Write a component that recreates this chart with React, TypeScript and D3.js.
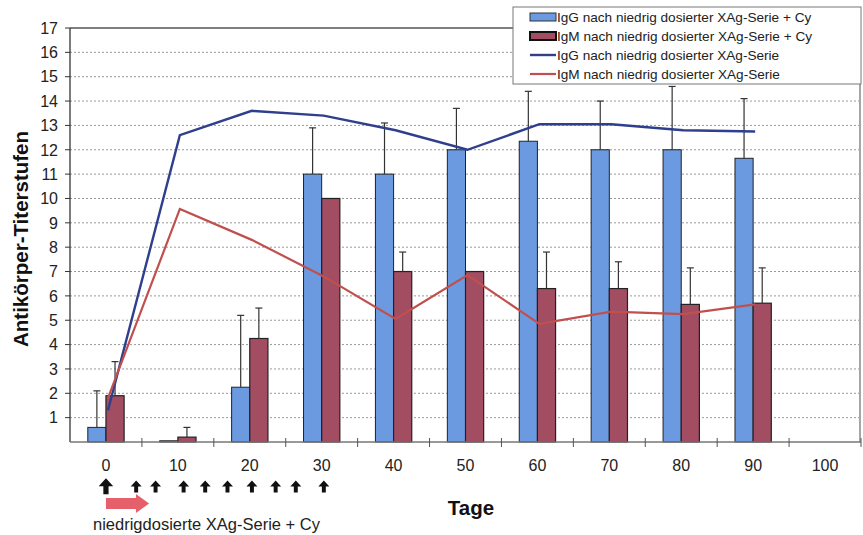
import * as d3 from "d3";

const days = ["0", "10", "20", "30", "40", "50", "60", "70", "80", "90", "100"];
// bars (mit Cy)
const igGCy = [0.6, 0.05, 2.25, 11.0, 11.0, 12.0, 12.35, 12.0, 12.0, 11.65, null];
const igGCyErr = [1.5, 0, 2.95, 1.9, 2.1, 1.7, 2.05, 2.0, 2.6, 2.45, null];
const igMCy = [1.9, 0.2, 4.25, 10.0, 7.0, 7.0, 6.3, 6.3, 5.65, 5.7, null];
const igMCyErr = [1.4, 0.4, 1.25, 0, 0.8, 0, 1.5, 1.1, 1.5, 1.45, null];
// lines (ohne Cy)
const igGLine = [1.3, 12.6, 13.6, 13.4, 12.8, 12.0, 13.05, 13.05, 12.8, 12.75];
const igMLine = [1.8, 9.57, 8.3, 6.8, 5.05, 6.85, 4.85, 5.35, 5.25, 5.65];
const yTicks = d3.range(1, 18);
// Injektionstage
const doseDays = [0, 4.2, 6.9, 10.8, 13.8, 16.9, 20.3, 23.6, 26.4, 30.3];

const legendLabels = [
  "IgG nach niedrig dosierter XAg-Serie + Cy",
  "IgM nach niedrig dosierter XAg-Serie + Cy",
  "IgG nach niedrig dosierter XAg-Serie",
  "IgM nach niedrig dosierter XAg-Serie",
];

const blueBar = "#6b9ae0";
const redBar = "#a34d63";
const blueLine = "#2f3f8c";
const redLine = "#c0504d";
const font = "'Liberation Sans', Arial, sans-serif";

export default function App() {
  const left = 70,
    right = 861,
    top = 28,
    bottom = 442;

  const x = d3.scaleBand().domain(days).range([left, right]);
  const inner = d3
    .scaleBand()
    .domain(["g", "m"])
    .range([0, x.bandwidth()])
    .paddingOuter(0.98)
    .paddingInner(0);
  const y = d3.scaleLinear().domain([0, 17]).range([bottom, top]);
  const dayX = d3
    .scaleLinear()
    .domain([0, 100])
    .range([x("0")! + x.bandwidth() / 2, x("100")! + x.bandwidth() / 2]);

  const cx = (i: number) => x(days[i])! + x.bandwidth() / 2 + 2;
  const line = d3
    .line<number>()
    .x((d, i) => cx(i))
    .y((d) => y(d));

  const bw = inner.bandwidth();

  const bars = (vals: (number | null)[], errs: (number | null)[], key: string, color: string, sw: number) =>
    vals.map((v, i) => {
      if (v == null) return null;
      const bx = x(days[i])! + inner(key)!;
      const e = errs[i] || 0;
      const mx = bx + bw / 2;
      return (
        <g key={key + i}>
          <rect x={bx} y={y(v)} width={bw} height={bottom - y(v)} fill={color} stroke="#222" strokeWidth={sw} />
          {e > 0 && (
            <g stroke="#333" strokeWidth={1.2}>
              <line x1={mx} x2={mx} y1={y(v)} y2={y(v + e)} />
              <line x1={mx - 3.5} x2={mx + 3.5} y1={y(v + e)} y2={y(v + e)} />
            </g>
          )}
        </g>
      );
    });

  return (
    <svg width={863} height={535} style={{ position: "absolute", left: 0, top: 0, background: "#fff" }} fontFamily={font}>
      {/* grid */}
      {yTicks.slice(0, -1).map((t) => (
        <line key={t} x1={left} x2={right - 2} y1={y(t)} y2={y(t)} stroke="#999" strokeDasharray="2,2" strokeWidth={1} />
      ))}
      {/* frame */}
      <line x1={left} x2={right - 1} y1={y(17)} y2={y(17)} stroke="#555" strokeWidth={1.3} />
      <line x1={right - 1} x2={right - 1} y1={y(17)} y2={bottom} stroke="#888" strokeWidth={1.5} />

      {bars(igGCy, igGCyErr, "g", blueBar, 1)}
      {bars(igMCy, igMCyErr, "m", redBar, 1.2)}

      <path d={line(igGLine)!} fill="none" stroke={blueLine} strokeWidth={2.4} />
      <path d={line(igMLine)!} fill="none" stroke={redLine} strokeWidth={2.2} />

      {/* y axis */}
      <line x1={left} x2={left} y1={y(17)} y2={bottom} stroke="#333" strokeWidth={1.3} />
      {yTicks.map((t) => (
        <g key={t}>
          <line x1={left - 5} x2={left} y1={y(t)} y2={y(t)} stroke="#333" />
          <text x={left - 12} y={y(t)} dy="0.36em" textAnchor="end" fontSize={16} fill="#222">
            {t}
          </text>
        </g>
      ))}
      <text
        transform={`translate(28,239) rotate(-90)`}
        textAnchor="middle"
        fontSize={20.5}
        fontWeight="bold"
        fill="#111"
      >
        Antikörper-Titerstufen
      </text>

      {/* x axis */}
      <line x1={left} x2={right} y1={bottom} y2={bottom} stroke="#777" strokeWidth={1.3} />
      {days.map((d, i) => (
        <g key={d}>
          {i > 0 && <line x1={x(d)} x2={x(d)} y1={bottom - 4} y2={bottom + 5} stroke="#555" />}
          <text x={x(d)! + x.bandwidth() / 2} y={465} dy="0.36em" textAnchor="middle" fontSize={16} fill="#222">
            {d}
          </text>
        </g>
      ))}
      <line x1={right} x2={right} y1={bottom - 4} y2={bottom + 5} stroke="#555" />

      {/* dose arrows */}
      {doseDays.map((dd, i) => {
        const ax = dayX(dd);
        const big = i === 0;
        const s = big ? 1.45 : 1.1;
        return (
          <g key={i} transform={`translate(${ax},487) scale(${s})`} fill="#111">
            <path d="M0,-6 L5,-0.5 L1.8,-0.5 L1.8,5 L-1.8,5 L-1.8,-0.5 L-5,-0.5 Z" />
          </g>
        );
      })}
      <path
        d={`M${dayX(0)},${498} L${dayX(0) + 30},${498} L${dayX(0) + 30},${494} L${dayX(6)},${503.5} L${dayX(0) + 30},${513} L${dayX(0) + 30},${509} L${dayX(0)},${509} Z`}
        fill="#e5606a"
      />
      <text x={93} y={524} dy="0.36em" fontSize={16.5} fill="#222">
        niedrigdosierte XAg-Serie + Cy
      </text>
      <text x={471} y={508} dy="0.36em" textAnchor="middle" fontSize={20.5} fontWeight="bold" fill="#111">
        Tage
      </text>

      {/* legend */}
      <g>
        <rect x={513} y={7} width={348} height={77} fill="#fff" stroke="#777" strokeWidth={1} />
        {legendLabels.map((lab, i) => {
          const ly = 17 + i * 19;
          return (
            <g key={lab}>
              {i === 0 && <rect x={530} y={ly - 4} width={26} height={8} fill={blueBar} stroke="#333" />}
              {i === 1 && <rect x={530} y={ly - 4} width={26} height={8} fill={redBar} stroke="#111" strokeWidth={2} />}
              {i === 2 && <line x1={530} x2={556} y1={ly} y2={ly} stroke={blueLine} strokeWidth={2.4} />}
              {i === 3 && <line x1={530} x2={556} y1={ly} y2={ly} stroke={redLine} strokeWidth={2.2} />}
              <text x={557} y={ly} dy="0.36em" fontSize={13.6} fill="#222">
                {lab}
              </text>
            </g>
          );
        })}
      </g>
    </svg>
  );
}
